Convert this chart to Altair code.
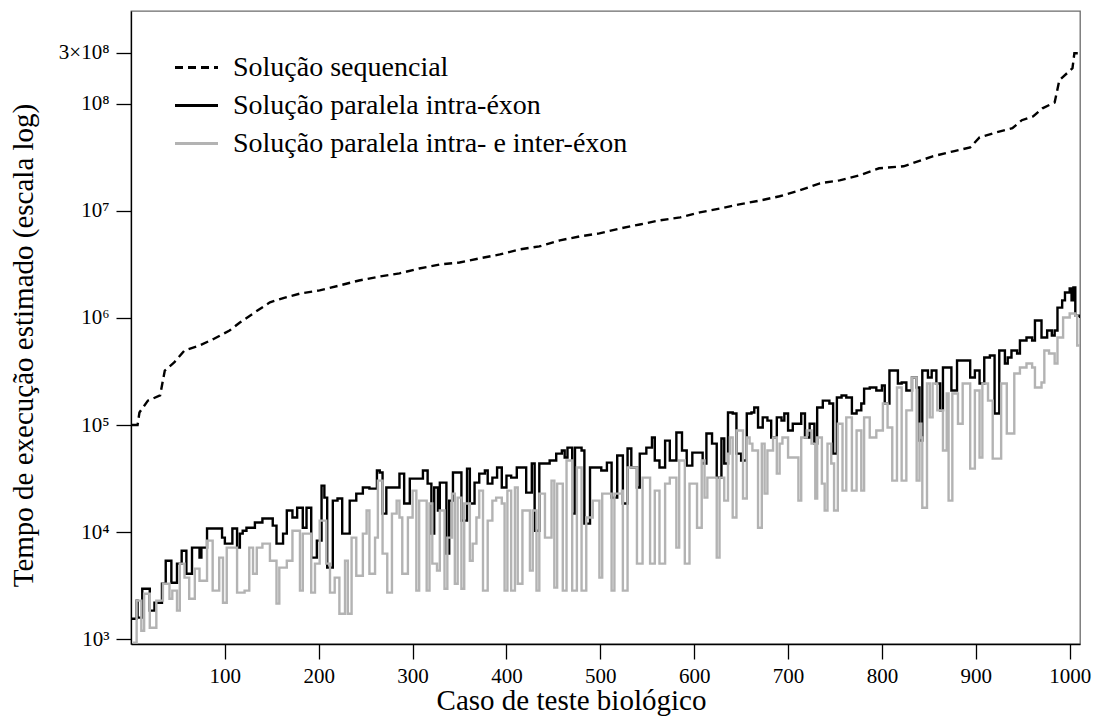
import altair as alt
import pandas as pd

series_names = [
    "Solução sequencial",
    "Solução paralela intra-éxon",
    "Solução paralela intra- e inter-éxon",
]
series_colors = ["#000000", "#000000", "#b3b3b3"]
series_interp = ["linear", "step-after", "step-after"]

seq_caso = [1, 7, 9, 18, 31, 36, 46, 57, 73, 89, 105, 116, 132, 148, 164, 180, 201, 222, 243, 265,
            286, 307, 329, 350, 371, 393, 414, 435, 446, 457, 478, 499, 521, 542, 563, 585, 606, 627, 648, 670,
            691, 712, 734, 755, 776, 797, 823, 854, 876, 894, 904, 922, 939, 949, 961, 971, 984, 989, 1003, 1005,
            1011]
seq_tempo = [1.0e5, 1.0e5, 1.31e5, 1.69e5, 1.89e5, 3.23e5, 3.84e5, 4.97e5, 5.53e5, 6.43e5,
             7.63e5, 9.07e5, 1.13e6, 1.40e6, 1.55e6, 1.69e6, 1.81e6, 2.01e6, 2.24e6, 2.44e6,
             2.61e6, 2.90e6, 3.16e6, 3.30e6, 3.60e6, 3.92e6, 4.37e6, 4.66e6, 4.97e6, 5.31e6,
             5.78e6, 6.17e6, 6.86e6, 7.47e6, 8.15e6, 8.70e6, 9.68e6, 1.05e7, 1.15e7, 1.25e7,
             1.37e7, 1.55e7, 1.81e7, 1.93e7, 2.15e7, 2.50e7, 2.61e7, 3.23e7, 3.60e7, 3.92e7,
             4.86e7, 5.42e7, 5.91e7, 7.03e7, 7.63e7, 9.07e7, 1.03e8, 1.66e8, 2.15e8, 2.97e8,
             2.97e8]

intra_caso = [1, 4, 6, 7, 12, 16, 20, 25, 33, 37, 41, 43, 49, 54, 59, 65, 70, 73, 75, 81,
              92, 97, 100, 105, 108, 113, 116, 119, 123, 132, 140, 151, 155, 162, 166, 172, 177, 182, 183, 187,
              192, 198, 203, 206, 209, 215, 220, 225, 233, 240, 247, 254, 262, 265, 268, 272, 279, 286, 291, 297,
              304, 311, 316, 320, 323, 327, 329, 332, 336, 339, 343, 348, 352, 358, 361, 366, 371, 377, 380, 385,
              390, 395, 400, 405, 411, 419, 421, 427, 430, 435, 446, 453, 459, 462, 465, 470, 473, 480, 483, 489,
              496, 501, 507, 512, 518, 524, 529, 533, 539, 542, 549, 555, 558, 563, 569, 574, 581, 587, 592, 598,
              606, 609, 613, 619, 624, 629, 632, 636, 641, 645, 650, 656, 661, 664, 668, 673, 678, 682, 688, 693,
              696, 700, 705, 710, 714, 718, 723, 728, 731, 737, 744, 748, 752, 757, 762, 768, 773, 778, 781, 787,
              794, 800, 803, 808, 813, 817, 821, 826, 832, 837, 840, 843, 849, 853, 858, 862, 865, 870, 874, 880,
              885, 890, 894, 899, 904, 909, 915, 920, 925, 931, 934, 938, 944, 947, 954, 960, 963, 970, 976, 981,
              984, 987, 992, 995, 1000, 1002, 1004, 1006, 1011]
intra_tempo = [1.55e3, 1.55e3, 2.29e3, 1.59e3, 2.96e3, 2.96e3, 1.85e3, 2.19e3, 3.30e3, 5.41e3,
               5.41e3, 3.37e3, 5.08e3, 6.71e3, 4.09e3, 7.16e3, 7.16e3, 5.78e3, 7.16e3, 1.08e4,
               1.08e4, 8.89e3, 7.81e3, 7.81e3, 1.08e4, 7.16e3, 9.68e3, 1.03e4, 1.10e4, 1.23e4,
               1.34e4, 1.15e4, 7.81e3, 9.68e3, 1.59e4, 1.37e4, 1.69e4, 1.69e4, 1.10e4, 1.69e4,
               5.78e3, 8.33e3, 2.72e4, 2.10e4, 4.66e3, 1.97e4, 2.06e4, 9.68e3, 1.97e4, 2.29e4,
               2.61e4, 2.55e4, 3.76e4, 3.60e4, 1.49e4, 2.61e4, 2.61e4, 3.52e4, 1.85e4, 3.16e4,
               3.16e4, 3.76e4, 2.84e4, 9.68e3, 2.61e4, 1.59e4, 2.90e4, 2.90e4, 6.30e3, 1.97e4,
               3.60e4, 3.60e4, 1.28e4, 3.92e4, 1.85e4, 2.90e4, 3.52e4, 3.76e4, 2.84e4, 3.23e4,
               4.01e4, 2.61e4, 3.37e4, 3.23e4, 4.01e4, 4.01e4, 2.34e4, 4.37e4, 1.03e4, 4.37e4,
               4.66e4, 5.41e4, 5.78e4, 4.97e4, 6.16e4, 1.49e4, 6.16e4, 5.78e4, 1.20e4, 4.01e4,
               4.01e4, 3.76e4, 4.46e4, 2.10e4, 5.19e4, 1.85e4, 6.03e4, 4.01e4, 2.61e4, 5.41e4,
               6.16e4, 7.64e4, 4.66e4, 4.01e4, 7.16e4, 4.66e4, 8.51e4, 5.78e4, 4.18e4, 5.53e4,
               5.53e4, 4.37e4, 8.33e4, 6.71e4, 3.23e4, 7.48e4, 4.37e4, 1.31e5, 1.28e5, 5.41e4,
               4.66e4, 1.28e5, 1.31e5, 1.46e5, 9.48e4, 1.18e5, 1.10e5, 7.64e4, 1.18e5, 1.10e5,
               1.28e5, 8.89e4, 1.03e5, 1.03e5, 1.28e5, 7.64e4, 1.03e5, 6.71e4, 1.46e5, 1.69e5,
               1.59e5, 5.41e4, 1.81e5, 1.89e5, 1.81e5, 1.28e5, 1.37e5, 1.59e5, 2.19e5, 2.24e5,
               2.10e5, 2.34e5, 1.59e5, 3.23e5, 3.23e5, 2.44e5, 2.50e5, 2.10e5, 2.78e5, 2.24e5,
               7.16e4, 3.23e5, 2.78e5, 3.23e5, 2.44e5, 1.37e5, 3.45e5, 3.45e5, 2.10e5, 4.01e5,
               4.01e5, 4.01e5, 2.78e5, 3.23e5, 2.44e5, 4.27e5, 4.46e5, 1.28e5, 4.97e5, 3.76e5,
               4.27e5, 4.97e5, 4.66e5, 6.16e5, 6.57e5, 6.16e5, 9.48e5, 6.57e5, 7.64e5, 6.86e5,
               7.64e5, 1.25e6, 1.46e6, 1.73e6, 1.89e6, 1.46e6, 1.93e6, 1.05e6, 1.0e6]

inter_caso = [2, 6, 11, 14, 20, 25, 27, 34, 41, 44, 49, 52, 57, 62, 68, 73, 81, 87, 94, 98,
              102, 108, 113, 121, 126, 130, 134, 140, 148, 155, 158, 166, 172, 180, 183, 192, 196, 201, 208, 212,
              217, 222, 228, 231, 235, 240, 247, 251, 254, 260, 263, 268, 273, 278, 283, 286, 289, 295, 300, 304,
              307, 315, 318, 321, 326, 329, 334, 337, 342, 345, 348, 352, 355, 361, 364, 368, 371, 375, 380, 385,
              389, 395, 398, 401, 405, 409, 412, 417, 425, 428, 432, 435, 441, 448, 451, 454, 460, 464, 470, 475,
              480, 485, 492, 499, 502, 508, 512, 515, 523, 524, 529, 539, 545, 553, 558, 563, 569, 574, 581, 584,
              590, 595, 603, 608, 611, 614, 619, 624, 627, 632, 636, 638, 641, 645, 648, 652, 656, 659, 662, 668,
              672, 675, 678, 684, 688, 691, 694, 700, 707, 711, 714, 720, 725, 729, 731, 736, 739, 742, 746, 749,
              753, 758, 762, 768, 773, 778, 781, 787, 794, 801, 806, 811, 816, 821, 826, 832, 837, 840, 842, 843,
              848, 851, 854, 859, 865, 869, 871, 875, 881, 886, 894, 899, 904, 907, 913, 918, 923, 927, 933, 938,
              941, 947, 954, 960, 963, 970, 973, 978, 984, 987, 993, 1000, 1006, 1008, 1011]
inter_tempo = [9.3e2, 2.29e3, 1.20e3, 2.66e3, 1.28e3, 1.28e3, 2.29e3, 3.30e3, 2.39e3, 2.84e3,
               1.85e3, 5.08e3, 3.76e3, 2.39e3, 4.56e3, 3.52e3, 8.33e3, 2.84e3, 5.78e3, 2.19e3,
               7.16e3, 7.16e3, 2.72e3, 2.84e3, 7.16e3, 4.09e3, 7.16e3, 7.81e3, 5.41e3, 2.15e3,
               4.66e3, 5.41e3, 1.03e4, 2.84e3, 9.68e3, 2.72e3, 5.08e3, 1.28e4, 5.08e3, 2.72e3,
               3.76e3, 1.73e3, 5.41e3, 1.73e3, 8.89e3, 3.92e3, 9.68e3, 1.59e4, 4.09e3, 8.89e3,
               3.03e4, 6.30e3, 2.72e3, 1.49e4, 1.97e4, 1.37e4, 4.09e3, 1.37e4, 2.44e4, 2.84e3,
               1.97e4, 2.84e3, 1.85e4, 5.08e3, 4.37e3, 1.59e4, 2.96e3, 8.89e3, 2.29e4, 3.30e3,
               2.10e4, 2.96e3, 1.85e4, 5.41e3, 7.81e3, 1.37e4, 2.44e4, 2.84e3, 1.28e4, 1.97e4,
               2.10e4, 1.85e4, 2.84e3, 2.44e4, 2.84e3, 2.61e4, 3.30e3, 1.59e4, 4.37e3, 1.59e4,
               2.84e3, 2.29e4, 8.89e3, 3.03e4, 3.03e3, 2.84e4, 2.84e3, 4.66e4, 2.84e3, 4.01e4,
               2.84e3, 1.37e4, 1.97e4, 3.76e3, 2.29e4, 2.29e4, 2.84e3, 2.29e4, 2.44e4, 2.84e3,
               4.01e4, 5.08e3, 3.23e4, 5.08e3, 2.44e4, 5.08e3, 2.84e4, 3.23e4, 7.16e3, 4.66e4,
               5.08e3, 2.84e4, 1.10e4, 4.66e4, 2.10e4, 3.23e4, 3.23e4, 5.78e3, 3.23e4, 1.97e4,
               5.41e4, 7.64e4, 1.37e4, 8.89e4, 8.89e4, 2.06e4, 7.64e4, 6.71e4, 5.78e4, 1.10e4,
               6.71e4, 2.29e4, 5.78e4, 7.64e4, 3.52e4, 6.71e4, 7.64e4, 4.97e4, 4.97e4, 1.97e4,
               7.64e4, 8.89e4, 6.71e4, 2.06e4, 7.64e4, 2.84e4, 1.59e4, 6.71e4, 4.37e4, 1.59e4,
               1.03e5, 2.44e4, 1.18e5, 2.44e4, 8.89e4, 2.44e4, 1.18e5, 7.64e4, 8.89e4, 1.59e5,
               9.48e4, 3.03e4, 2.24e5, 3.03e4, 1.37e5, 2.78e5, 3.03e4, 1.03e5, 7.64e4, 1.69e4,
               2.44e5, 1.18e5, 2.44e5, 1.37e5, 5.78e4, 1.97e5, 1.97e4, 1.97e5, 1.03e5, 2.44e5,
               3.92e4, 2.10e5, 4.97e4, 2.44e5, 1.69e5, 4.86e4, 4.86e4, 2.44e5, 8.33e4, 8.33e4,
               3.03e5, 3.45e5, 3.76e5, 3.45e5, 2.24e5, 2.50e5, 4.97e5, 4.66e5, 3.76e5, 6.57e5,
               1.01e6, 1.10e6, 1.05e6, 5.53e5, 5.53e5]

x_ticks = [100, 200, 300, 400, 500, 600, 700, 800, 900, 1000]
y_ticks = [1e3, 1e4, 1e5, 1e6, 1e7, 1e8, 3e8]

rows = []
for name, cs, ts in zip(series_names,
                        [seq_caso, intra_caso, inter_caso],
                        [seq_tempo, intra_tempo, inter_tempo]):
    for c, t in zip(cs, ts):
        rows.append({"caso": c, "tempo": t, "serie": name})
df = pd.DataFrame(rows)

FONT = "Liberation Serif"
LEGEND_FONT = "Liberation Serif, DejaVu Serif, serif"

legend = alt.Legend(
    title=None, orient="none", legendX=42, legendY=33,
    symbolType="stroke", symbolSize=1849, symbolStrokeWidth=3.2,
    labelFont=LEGEND_FONT, labelFontSize=28, labelColor="black",
    labelOffset=13, rowPadding=0, labelLimit=700, padding=0,
)

y_label_expr = (
    "datum.value >= 2e8 ? '3×10⁸' : datum.value >= 5e7 ? '10⁸' : "
    "datum.value >= 5e6 ? '10⁷' : datum.value >= 5e5 ? '10⁶' : "
    "datum.value >= 5e4 ? '10⁵' : datum.value >= 5e3 ? '10⁴' : '10³'"
)

base = alt.Chart(df).encode(
    x=alt.X("caso:Q",
            scale=alt.Scale(domain=[0, 1011], nice=False, zero=False),
            axis=alt.Axis(values=x_ticks, title="Caso de teste biológico",
                          titleX=440, titleY=65, titleAlign="center",
                          titleBaseline="alphabetic", labelPadding=6,
                          format="d")),
    y=alt.Y("tempo:Q",
            scale=alt.Scale(type="log", domain=[902, 7.36e8], nice=False),
            axis=alt.Axis(values=y_ticks, labelExpr=y_label_expr,
                          title="Tempo de execução estimado (escala log)",
                          titleX=-99, titleY=334, titleAlign="center",
                          titleBaseline="alphabetic", titleAngle=-90,
                          labelPadding=7)),
    color=alt.Color("serie:N",
                    scale=alt.Scale(domain=series_names, range=series_colors),
                    legend=legend),
    strokeDash=alt.StrokeDash("serie:N",
                              scale=alt.Scale(domain=series_names,
                                              range=[[8, 5], [1, 0], [1, 0]]),
                              legend=legend),
)

layers = [
    base.transform_filter(alt.datum.serie == name).mark_line(
        strokeWidth=2.4, clip=True, interpolate=interp)
    for name, interp in zip(series_names, series_interp)
]

chart = alt.layer(*layers).properties(
    width=949, height=633,
    autosize=alt.AutoSizeParams(type="none"),
    padding={"left": 131, "top": 11, "right": 18, "bottom": 72},
).configure(
    font=FONT,
).configure_view(
    stroke="#6b6b6b", strokeWidth=1.3,
).configure_axis(
    grid=False, domainColor="black", domainWidth=1.3,
    tickColor="black", tickWidth=1.3, tickSize=15,
    labelFont=FONT, labelFontSize=21, labelColor="black",
    titleFont=FONT, titleFontSize=29, titleFontWeight="normal", titleColor="black",
).configure_legend(
    labelFont=LEGEND_FONT, labelFontSize=28, labelColor="black",
)

chart.save("out.html", embed_options={"renderer": "svg", "actions": False})
